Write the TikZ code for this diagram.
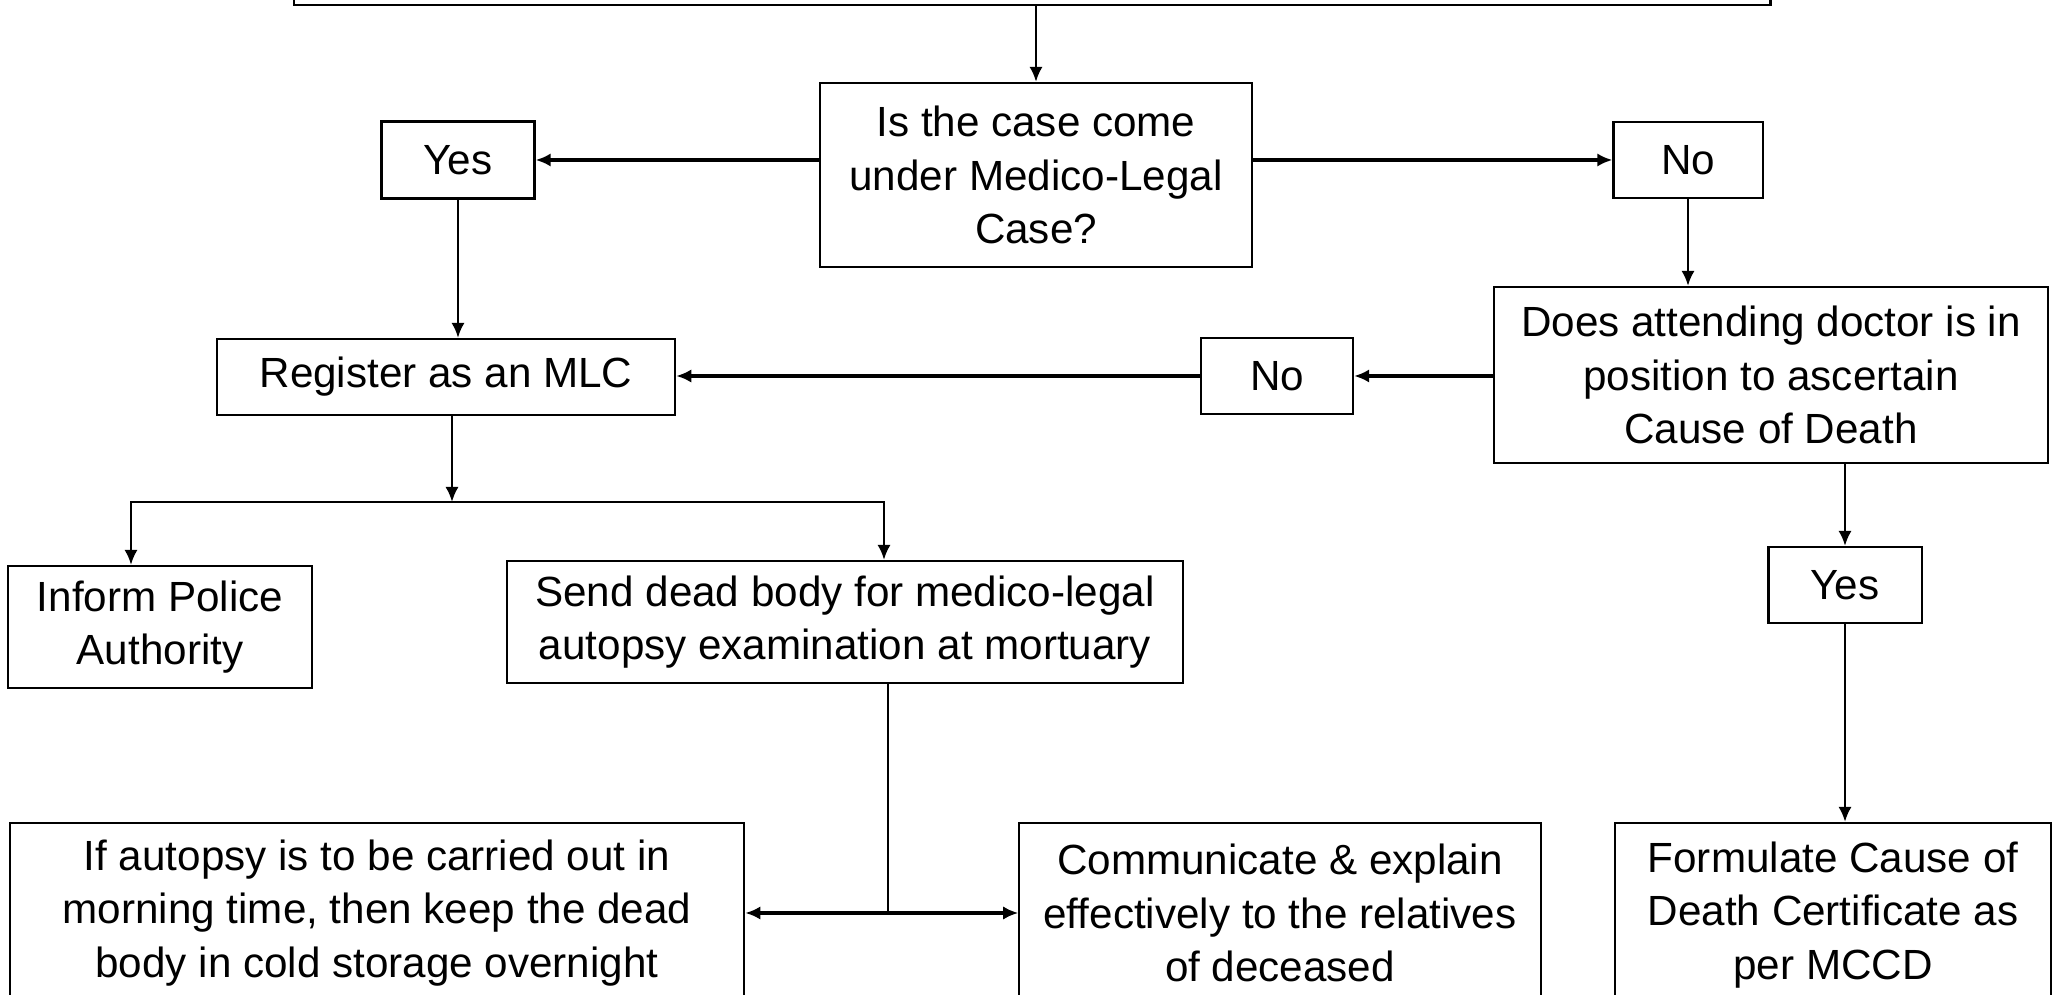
\documentclass[tikz,border=0pt]{standalone}
\usepackage{fontspec}
\setmainfont{Liberation Sans}
\usetikzlibrary{arrows.meta}
\begin{document}
\begin{tikzpicture}[x=0.01cm, y=-0.01cm, >={Latex[length=4.3pt,width=3.8pt]},
	box/.style={draw, line width=0.6pt, align=center, inner sep=0pt, font=\fontsize{12}{15.2}\selectfont},
	flow/.style={->, line width=0.75pt},
	hflow/.style={->, line width=0.95pt}]
	\useasboundingbox (0,0) rectangle (2054,995);
	\clip (0,0) rectangle (2054,995);
	\node[box, minimum width=14.76cm, minimum height=1cm] (top) at (1032,-45) {};
	\node[box, minimum width=4.32cm, minimum height=1.84cm] (dec) at (1036,175) {Is the case come\\under Medico-Legal\\Case?};
	\node[box, minimum width=1.53cm, minimum height=0.77cm] (yes1) at (458,160) {Yes};
	\node[box, minimum width=1.49cm, minimum height=0.76cm] (no1) at (1688,160) {No};
	\node[box, minimum width=5.53cm, minimum height=1.76cm] (does) at (1771,375) {Does attending doctor is in\\position to ascertain\\Cause of Death};
	\node[box, minimum width=1.52cm, minimum height=0.76cm] (no2) at (1277,376) {No};
	\node[box, minimum width=4.58cm, minimum height=0.76cm] (reg) at (446,377) {Register as an MLC};
	\node[box, minimum width=3.04cm, minimum height=1.22cm] (inform) at (160,627) {Inform Police\\Authority};
	\node[box, minimum width=6.75cm, minimum height=1.22cm] (send) at (845,622) {Send dead body for medico-legal\\autopsy examination at mortuary};
	\node[box, minimum width=1.53cm, minimum height=0.76cm] (yes2) at (1845,585) {Yes};
	\node[box, minimum width=7.34cm, minimum height=1.80cm] (autopsy) at (377,913) {If autopsy is to be carried out in\\morning time, then keep the dead\\body in cold storage overnight};
	\node[box, minimum width=5.21cm, minimum height=1.80cm] (comm) at (1280,913) {Communicate \& explain\\effectively to the relatives\\of deceased};
	\node[box, minimum width=4.35cm, minimum height=1.84cm] (form) at (1833,915) {Formulate Cause of\\Death Certificate as\\per MCCD};
	\coordinate (split) at (452,502);
	\coordinate (splitL) at (131,502);
	\coordinate (splitR) at (884,502);
	\coordinate (join) at (888,913);
	\draw[flow] (dec.north |- top.south) -- (dec.north);
	\draw[hflow] (dec.west |- yes1) -- (yes1.east);
	\draw[hflow] (dec.east |- no1) -- (no1.west);
	\draw[flow] (no1.south) -- (no1.south |- does.north);
	\draw[hflow] (does.west |- no2) -- (no2.east);
	\draw[hflow] (no2.west) -- (no2.west -| reg.east);
	\draw[flow] (yes1.south) -- (yes1.south |- reg.north);
	\draw[flow] (reg.south -| split) -- (split);
	\draw[flow, <->] (splitL |- inform.north) -- (splitL) -- (splitR) -- (splitR |- send.north);
	\draw[line width=0.75pt] (send.south -| join) -- (join);
	\draw[hflow] (join) -- (join -| autopsy.east);
	\draw[hflow] (join) -- (join -| comm.west);
	\draw[flow] (does.south -| yes2) -- (yes2.north);
	\draw[flow] (yes2.south) -- (yes2.south |- form.north);
\end{tikzpicture}
\end{document}
